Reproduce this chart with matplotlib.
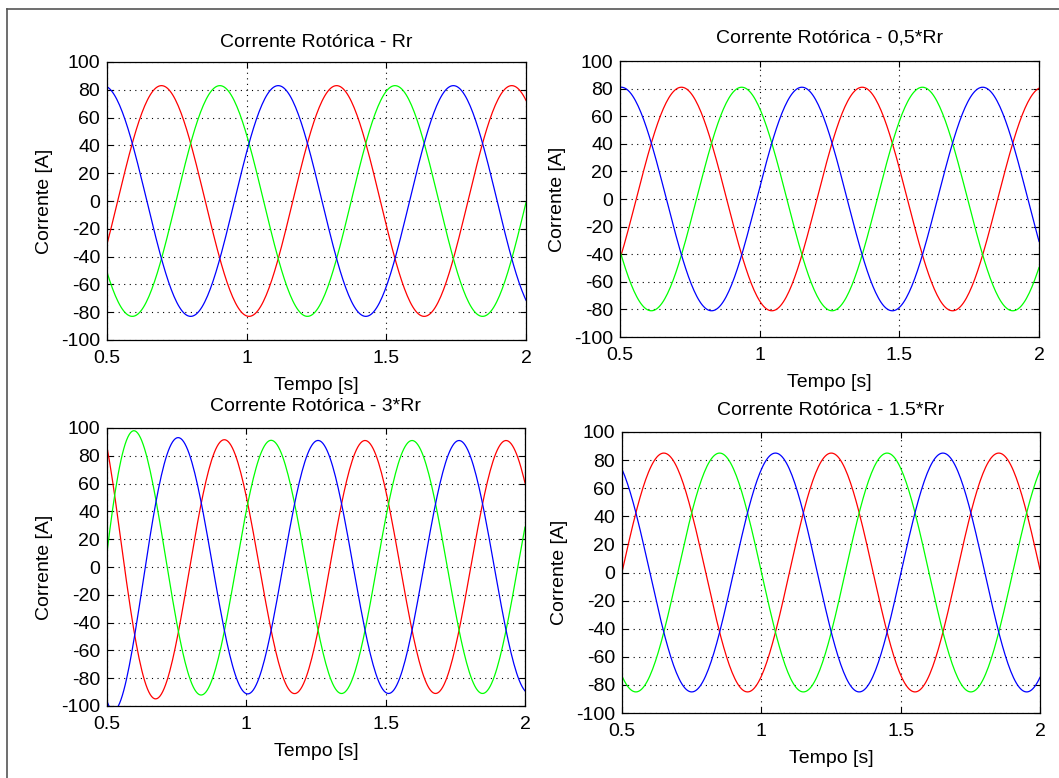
import numpy as np
import matplotlib.pyplot as plt
from matplotlib.lines import Line2D

plt.rcParams['font.family'] = ['Liberation Sans', 'DejaVu Sans']

# values, one entry per panel
titles = ['Corrente Rotórica - Rr', 'Corrente Rotórica - 0,5*Rr',
          'Corrente Rotórica - 3*Rr', 'Corrente Rotórica - 1.5*Rr']
amplitude = [83, 81, 91, 85]              # steady peak current [A]
period = [0.627, 0.647, 0.506, 0.601]     # time between two red peaks [s]
red_peak = [0.695, 0.720, 0.920, 0.650]   # first red peak inside the window [s]
# start-up transient, only visible in the 3*Rr case
extra_amp = [0, 0, 15, 0]                 # extra peak current at t = 0.5 [A]
phase_lag = [0, 0, 0.036, 0]              # lag of the waves at t = 0.5 [s]
decay = [0.13, 0.13, 0.13, 0.13]          # time constant of the transient [s]

t_start, t_end, t_step = 0.5, 2.0, 0.005
x_ticks = [0.5, 1, 1.5, 2]
x_labels = ['0.5', '1', '1.5', '2']
y_ticks = list(range(-100, 101, 20))
y_labels = [str(v) for v in y_ticks]
phase_colors = ['#ff0000', '#00ff00', '#0000ff']  # phases a, b, c

# axes boxes in pixels: left, top, right, bottom
W, H = 1059, 778
boxes = [(107, 62, 526, 340), (620, 61, 1039, 337),
         (107, 428, 525, 706), (622, 432, 1040, 713)]
title_pad = [11, 13, 12, 12]

fig = plt.figure(figsize=(W / 100, H / 100), dpi=100)
for i in range(4):
    l, t, r, b = boxes[i]
    ax = fig.add_axes([l / W, 1 - b / H, (r - l) / W, (b - t) / H])
    tt = np.arange(t_start, t_end + t_step / 2, t_step)
    fade = np.exp(-(tt - t_start) / decay[i])
    env = amplitude[i] + extra_amp[i] * fade
    tl = tt - phase_lag[i] * fade
    for k in range(3):
        ax.plot(tt, env * np.cos(2 * np.pi * (tl - red_peak[i] - k * period[i] / 3) / period[i]),
                color=phase_colors[k], lw=0.9)
    ax.set_xlim(0.5, 2)
    ax.set_ylim(-100, 100)
    ax.set_xticks(x_ticks)
    ax.set_xticklabels(x_labels)
    ax.set_yticks(y_ticks)
    ax.set_yticklabels(y_labels)
    ax.grid(True, color='k', linestyle=(0, (1, 4)), lw=0.8)
    ax.tick_params(direction='in', length=4, width=0.8, top=True, right=True,
                   labelsize=14, pad=5)
    ax.tick_params(axis='x', pad=7)
    for s in ax.spines.values():
        s.set_linewidth(0.9)
    ax.set_title(titles[i], fontsize=14, pad=title_pad[i])
    ax.set_xlabel('Tempo [s]', fontsize=14, labelpad=7.5)
    ax.set_ylabel('Corrente [A]', fontsize=14, labelpad=6)

# window frame of the original screenshot
fig.add_artist(Line2D([7 / W, 7 / W], [0, 1 - 9 / H], color='#555555', lw=1.2,
                      transform=fig.transFigure))
fig.add_artist(Line2D([7 / W, 1], [1 - 9 / H, 1 - 9 / H], color='#555555', lw=1.2,
                      transform=fig.transFigure))

fig.savefig('out.png', dpi=100)
